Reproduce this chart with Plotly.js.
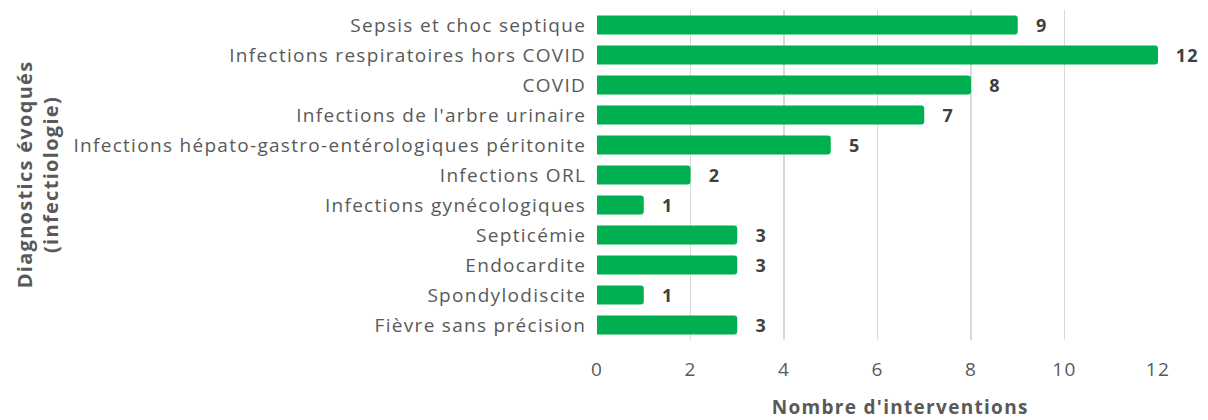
<!DOCTYPE html>
<html><head><meta charset="utf-8">
<script src="https://cdn.plot.ly/plotly-3.0.1.min.js"></script>
<style>
body{margin:0;padding:0;background:#fff}
#chart{width:1208px;height:420px}
#chart text{letter-spacing:1.3px}
</style>
</head><body><div id="chart"></div>
<script>
const categories = [
  "Sepsis et choc septique",
  "Infections respiratoires hors COVID",
  "COVID",
  "Infections de l'arbre urinaire",
  "Infections hépato-gastro-entérologiques péritonite",
  "Infections ORL",
  "Infections gynécologiques",
  "Septicémie",
  "Endocardite",
  "Spondylodiscite",
  "Fièvre sans précision"
];
const values = [9, 12, 8, 7, 5, 2, 1, 3, 3, 1, 3];
const xTicks = [0, 2, 4, 6, 8, 10, 12];
const xTitle = "Nombre d'interventions";
const yTitle = "Diagnostics évoqués<br>(infectiologie)";

const FONT = "'Open Sans', sans-serif";
const trace = {
  type: 'bar', orientation: 'h',
  y: categories, x: values,
  marker: {color: '#00B050', cornerradius: 3},
  text: values.map(v => '\u00a0\u00a0\u00a0' + v), textposition: 'outside',
  constraintext: 'none',
  textfont: {family: FONT, size: 18, color: '#404040', weight: 'bold'},
  cliponaxis: false, hoverinfo: 'none'
};
const layout = {
  width: 1208, height: 420,
  margin: {l: 597, r: 50, t: 10, b: 80},
  paper_bgcolor: '#fff', plot_bgcolor: '#fff',
  bargap: 0.37,
  showlegend: false,
  font: {family: FONT, color: '#595959', size: 18},
  xaxis: {
    range: [0, 12], tickvals: xTicks, ticktext: xTicks.map(String),
    showgrid: true, gridcolor: '#D9D9D9', gridwidth: 1.5,
    zeroline: false, showline: false,
    ticks: 'outside', ticklen: 12, tickcolor: 'rgba(0,0,0,0)',
    tickfont: {family: FONT, size: 19, color: '#595959'},
    fixedrange: true
  },
  yaxis: {
    autorange: 'reversed', showgrid: false, zeroline: false, showline: false,
    ticks: 'outside', ticklen: 6, tickcolor: 'rgba(0,0,0,0)',
    tickfont: {family: FONT, size: 19, color: '#595959'},
    automargin: false, fixedrange: true
  },
  annotations: [{
    xref: 'paper', yref: 'paper', x: -(597 - 37) / 561, y: 0.5,
    xanchor: 'center', yanchor: 'middle', textangle: -90, showarrow: false,
    text: yTitle,
    font: {family: FONT, size: 20, color: '#595959', weight: 'bold'}
  }, {
    xref: 'paper', yref: 'paper', x: (900 - 597) / 561, y: -(407 - 340) / 330,
    xanchor: 'center', yanchor: 'middle', showarrow: false,
    text: xTitle,
    font: {family: FONT, size: 19, color: '#595959', weight: 'bold'}
  }]
};
Plotly.newPlot('chart', [trace], layout, {displayModeBar: false, staticPlot: true});
</script></body></html>
